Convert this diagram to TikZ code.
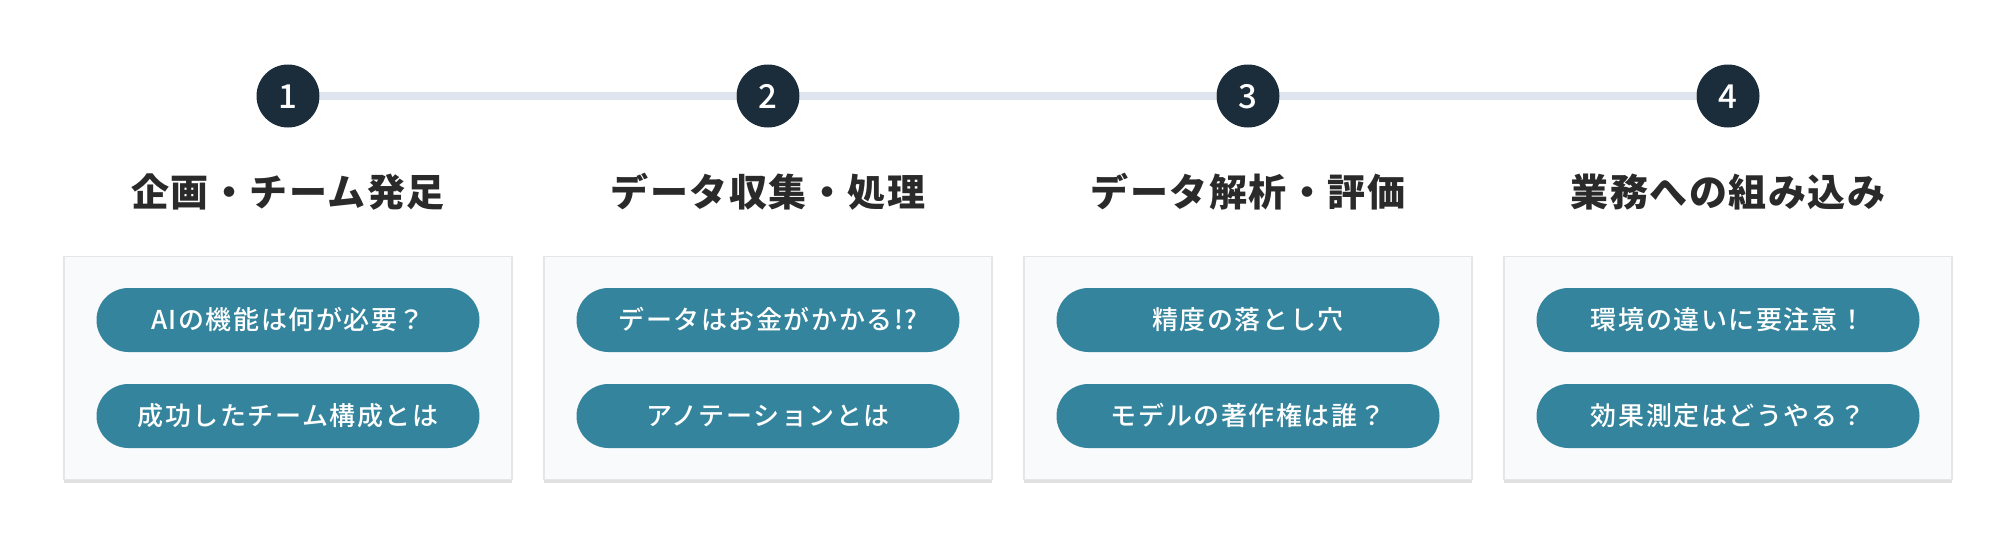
\documentclass[tikz,border=0pt]{standalone}
\usepackage{fontspec}
\setmainfont{Noto Sans CJK JP}
\newfontfamily\titlefont[LetterSpace=4]{Noto Sans CJK JP}
\newfontfamily\pillfont[LetterSpace=6,UprightFont=* Medium]{Noto Sans CJK JP}
\newfontfamily\numfont[UprightFont=* Medium]{Noto Sans CJK JP}
\usetikzlibrary{backgrounds,shadows}
\definecolor{navy}{HTML}{1B2D3B}
\definecolor{track}{HTML}{E0E6EF}
\definecolor{teal}{HTML}{33849C}
\definecolor{cardfill}{HTML}{F9FAFC}
\definecolor{cardline}{HTML}{E6E6E6}
\definecolor{titlecol}{HTML}{2A2A2A}
\tikzset{
  stepnum/.style={circle, fill=navy, minimum size=63pt, inner sep=0pt, text=white,
    font=\numfont\fontsize{33}{40}\selectfont, text height=24pt, text depth=0pt},
  tracklink/.style={draw=track, line width=8pt},
  steptitle/.style={text=titlecol, font=\titlefont\bfseries\fontsize{38}{46}\selectfont,
    inner sep=0pt, text height=30pt, text depth=5pt},
  card/.style={draw=cardline, line width=1.5pt, fill=cardfill, minimum width=448pt, minimum height=223pt,
    inner sep=0pt, drop shadow={shadow xshift=0pt, shadow yshift=-3pt, opacity=0.12, fill=black}},
  pill/.style={fill=teal, rounded corners=32pt, minimum width=383pt, minimum height=64pt,
    inner sep=0pt, text=white, font=\pillfont\fontsize{26}{32}\selectfont, text height=21pt, text depth=3pt}
}
\begin{document}
\begin{tikzpicture}[x=1pt,y=-1pt]
\useasboundingbox (0,0) rectangle (2016,544);
% circles
\node[stepnum] (c1) at (288,96) {1};
\node[stepnum] (c2) at (768,96) {2};
\node[stepnum] (c3) at (1248,96) {3};
\node[stepnum] (c4) at (1728,96) {4};
\begin{pgfonlayer}{background}
\draw[tracklink] (c1) -- (c2);
\draw[tracklink] (c2) -- (c3);
\draw[tracklink] (c3) -- (c4);
\end{pgfonlayer}
% titles
\node[steptitle] (t1) at (288,194) {企画・チーム発足};
\node[steptitle] (t2) at (768,194) {データ収集・処理};
\node[steptitle] (t3) at (1248,194) {データ解析・評価};
\node[steptitle] (t4) at (1728,194) {業務への組み込み};
% cards
\node[card] (k1) at (288,368) {};
\node[card] (k2) at (768,368) {};
\node[card] (k3) at (1248,368) {};
\node[card] (k4) at (1728,368) {};
% pills
\node[pill] (p1a) at (288,320) {AIの機能は何が必要？};
\node[pill] (p1b) at (288,416) {成功したチーム構成とは};
\node[pill] (p2a) at (768,320) {データはお金がかかる!?};
\node[pill] (p2b) at (768,416) {アノテーションとは};
\node[pill] (p3a) at (1248,320) {精度の落とし穴};
\node[pill] (p3b) at (1248,416) {モデルの著作権は誰？};
\node[pill] (p4a) at (1728,320) {環境の違いに要注意！};
\node[pill] (p4b) at (1728,416) {効果測定はどうやる？};
\end{tikzpicture}
\end{document}
